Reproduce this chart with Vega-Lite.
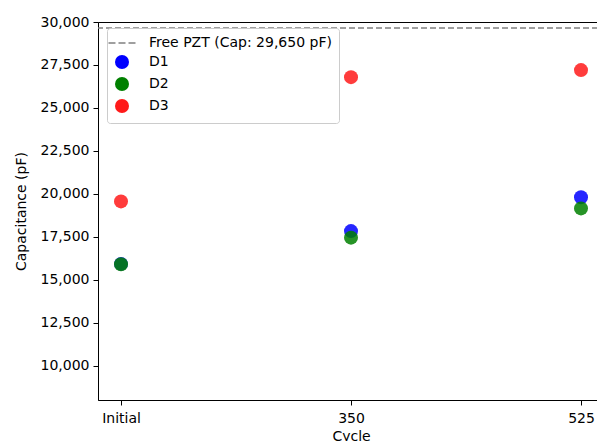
{
  "$schema": "https://vega.github.io/schema/vega-lite/v6.json",
  "width": 500,
  "height": 378,
  "autosize": {"type": "none"},
  "padding": {"left": 98, "top": 22, "right": 0, "bottom": 41},
  "config": {
    "font": "DejaVu Sans",
    "view": {"stroke": "#000000", "strokeWidth": 1},
    "axis": {
      "domainColor": "#000000",
      "tickColor": "#000000",
      "labelColor": "#000000",
      "titleColor": "#000000",
      "labelFont": "DejaVu Sans",
      "titleFont": "DejaVu Sans",
      "labelFontSize": 14,
      "titleFontSize": 14,
      "titleFontWeight": "normal",
      "tickSize": 5,
      "labelPadding": 4,
      "grid": false
    },
    "legend": {
      "orient": "none",
      "legendX": 9,
      "legendY": 6,
      "padding": 7,
      "fillColor": "rgba(255,255,255,0.8)",
      "strokeColor": "#cccccc",
      "cornerRadius": 3,
      "labelFont": "DejaVu Sans",
      "labelFontSize": 14,
      "labelColor": "#000000",
      "labelLimit": 400,
      "symbolSize": 196,
      "rowPadding": 2,
      "labelOffset": 19
    }
  },
  "encoding": {
    "y": {
      "field": "capacitance", "type": "quantitative",
      "scale": {"domain": [8000, 30000], "nice": false, "zero": false},
      "axis": {"title": "Capacitance (pF)", "values": [10000, 12500, 15000, 17500, 20000, 22500, 25000, 27500, 30000], "format": ",.0f", "titlePadding": 12}
    }
  },
  "layer": [
    {
      "data": {"values": [{"series": "Free PZT (Cap: 29,650 pF)", "capacitance": 29650}]},
      "mark": {"type": "rule", "color": "#808080", "strokeDash": [6, 3], "strokeWidth": 1.5},
      "encoding": {}
    },
    {
      "data": {
        "values": [
          {"cycle": "Initial", "series": "D1", "capacitance": 15920},
          {"cycle": "350", "series": "D1", "capacitance": 17830},
          {"cycle": "525", "series": "D1", "capacitance": 19800},
          {"cycle": "Initial", "series": "D2", "capacitance": 15900},
          {"cycle": "350", "series": "D2", "capacitance": 17450},
          {"cycle": "525", "series": "D2", "capacitance": 19150},
          {"cycle": "Initial", "series": "D3", "capacitance": 19560},
          {"cycle": "350", "series": "D3", "capacitance": 26790},
          {"cycle": "525", "series": "D3", "capacitance": 27200}
        ]
      },
      "mark": {"type": "point", "size": 196, "strokeWidth": 1.5, "fillOpacity": 0.85, "strokeOpacity": 1},
      "encoding": {
        "x": {
          "field": "cycle", "type": "ordinal", "sort": ["Initial", "350", "525"],
          "scale": {"type": "point", "range": [23, 483], "padding": 0},
          "axis": {"title": "Cycle", "labelAngle": 0, "labelPadding": 6, "titlePadding": 4}
        },
        "fill": {
          "field": "series", "type": "nominal",
          "scale": {"domain": ["Free PZT (Cap: 29,650 pF)", "D1", "D2", "D3"], "range": ["transparent", "#0000ff", "#008000", "#ff1a1a"]},
          "legend": {"title": null}
        },
        "stroke": {
          "field": "series", "type": "nominal",
          "scale": {"domain": ["Free PZT (Cap: 29,650 pF)", "D1", "D2", "D3"], "range": ["#808080", "transparent", "transparent", "transparent"]},
          "legend": {"title": null}
        },
        "shape": {
          "field": "series", "type": "nominal",
          "scale": {"domain": ["Free PZT (Cap: 29,650 pF)", "D1", "D2", "D3"], "range": ["M-1.93,0H-0.93M-0.5,0H0.5M0.93,0H1.93", "circle", "circle", "circle"]},
          "legend": {"title": null}
        }
      }
    }
  ]
}
